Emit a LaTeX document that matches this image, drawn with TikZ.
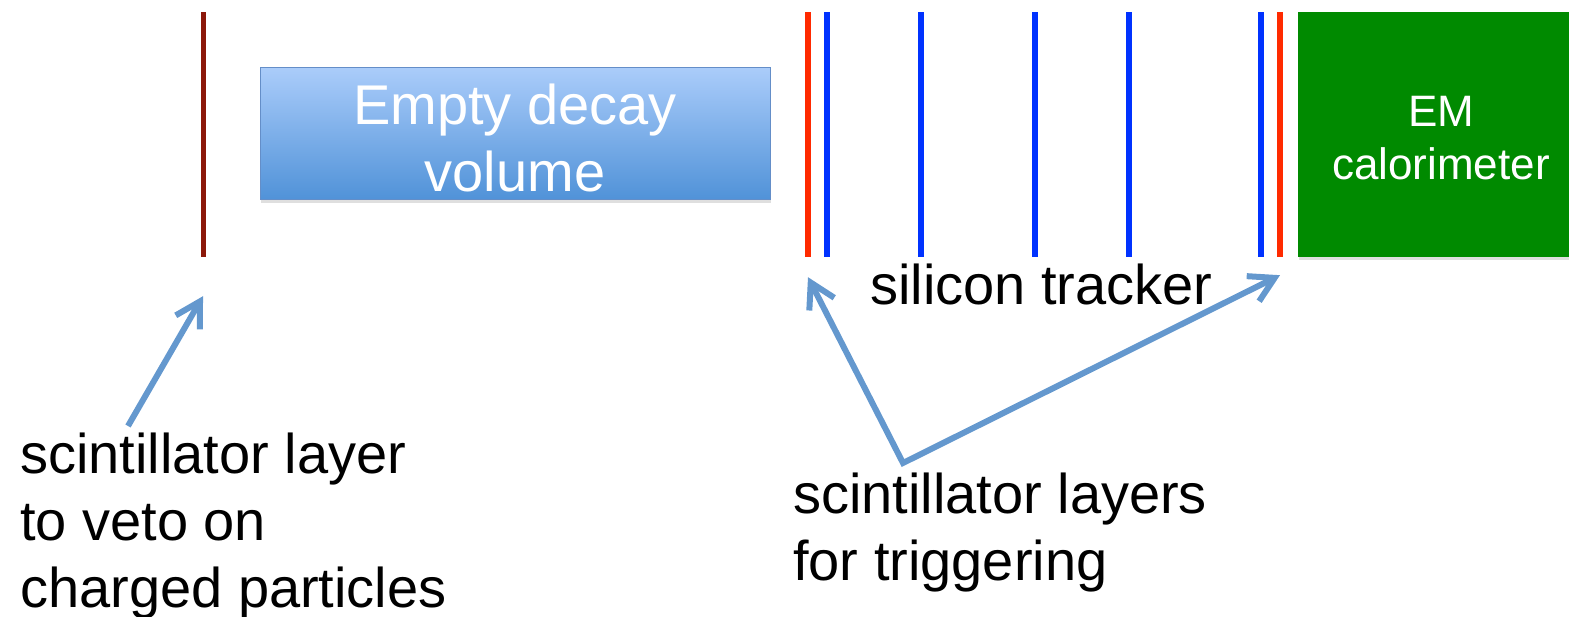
\documentclass[tikz,border=0pt]{standalone}
\usepackage{fontspec}
\setmainfont{Liberation Sans}
\usetikzlibrary{arrows.meta,shadows}

\definecolor{vetored}{RGB}{140,24,10}
\definecolor{trigred}{RGB}{255,42,0}
\definecolor{siblue}{RGB}{0,50,255}
\definecolor{boxtop}{RGB}{170,204,250}
\definecolor{boxbot}{RGB}{80,146,216}
\definecolor{boxedge}{RGB}{100,142,200}
\definecolor{calgreen}{RGB}{0,138,0}
\definecolor{pointblue}{RGB}{100,152,206}

\tikzset{
  layer/.style={inner sep=0pt, minimum width=6pt, minimum height=245pt},
  bigtext/.style={font=\fontsize{56}{67}\selectfont, inner sep=0pt},
  boxshadow/.style={drop shadow={shadow xshift=1pt, shadow yshift=-3pt, opacity=0.25}},
  decaybox/.style={draw=boxedge, line width=1pt, top color=boxtop, bottom color=boxbot,
    minimum width=510pt, minimum height=132pt, boxshadow},
  calbox/.style={fill=calgreen, inner sep=0pt, minimum width=286pt, minimum height=245pt, boxshadow},
  boxtext/.style={text=white, align=center, inner sep=0pt},
  pointer/.style={draw=pointblue, line width=6pt, >={Straight Barb[angle=60:28pt]}}
}

\begin{document}
\begin{tikzpicture}[x=1pt,y=-1pt]
\useasboundingbox (0,0) rectangle (1569,617);

% veto layer and decay volume
\node[layer, fill=vetored, minimum width=5pt] (veto) at (203,134.5) {};
\node[decaybox] (decay) at (515,134) {};
\node[bigtext, boxtext] (decaytext) at ([yshift=-4pt]decay.center) {Empty decay\\volume};

% tracker planes, trigger layers outside
\node[layer, fill=trigred] (trigin) at (808,134.5) {};
\node[layer, fill=siblue] (si1) at (827,134.5) {};
\node[layer, fill=siblue] (si2) at (921,134.5) {};
\node[layer, fill=siblue] (si3) at (1035,134.5) {};
\node[layer, fill=siblue] (si4) at (1129,134.5) {};
\node[layer, fill=siblue] (si5) at (1261,134.5) {};
\node[layer, fill=trigred] (trigout) at (1280,134.5) {};

\node[calbox] (calo) at (1441,134.5) {};
\node[boxtext, font=\fontsize{44}{53}\selectfont] (calotext) at ([yshift=-4pt]calo.center) {EM\\calorimeter};

% labels (base = last line)
\node[bigtext, anchor=base west] (silicon) at (870,305) {silicon tracker};
\node[bigtext, anchor=base west, align=left] (vetolabel) at (20,607)
  {scintillator layer\\to veto on\\charged particles};
\node[bigtext, anchor=base west, align=left] (triglabel) at (793,580)
  {scintillator layers\\for triggering};

\coordinate (vetotail) at (128,426);
\coordinate (trigfoot) at (903,463);

\draw[pointer, ->] (vetotail) -- ([yshift=-39pt]veto.south);
\draw[pointer, <->, line join=miter] ([yshift=-20pt]trigin.south) -- (trigfoot) -- ([yshift=-18pt]trigout.south);
\end{tikzpicture}
\end{document}
